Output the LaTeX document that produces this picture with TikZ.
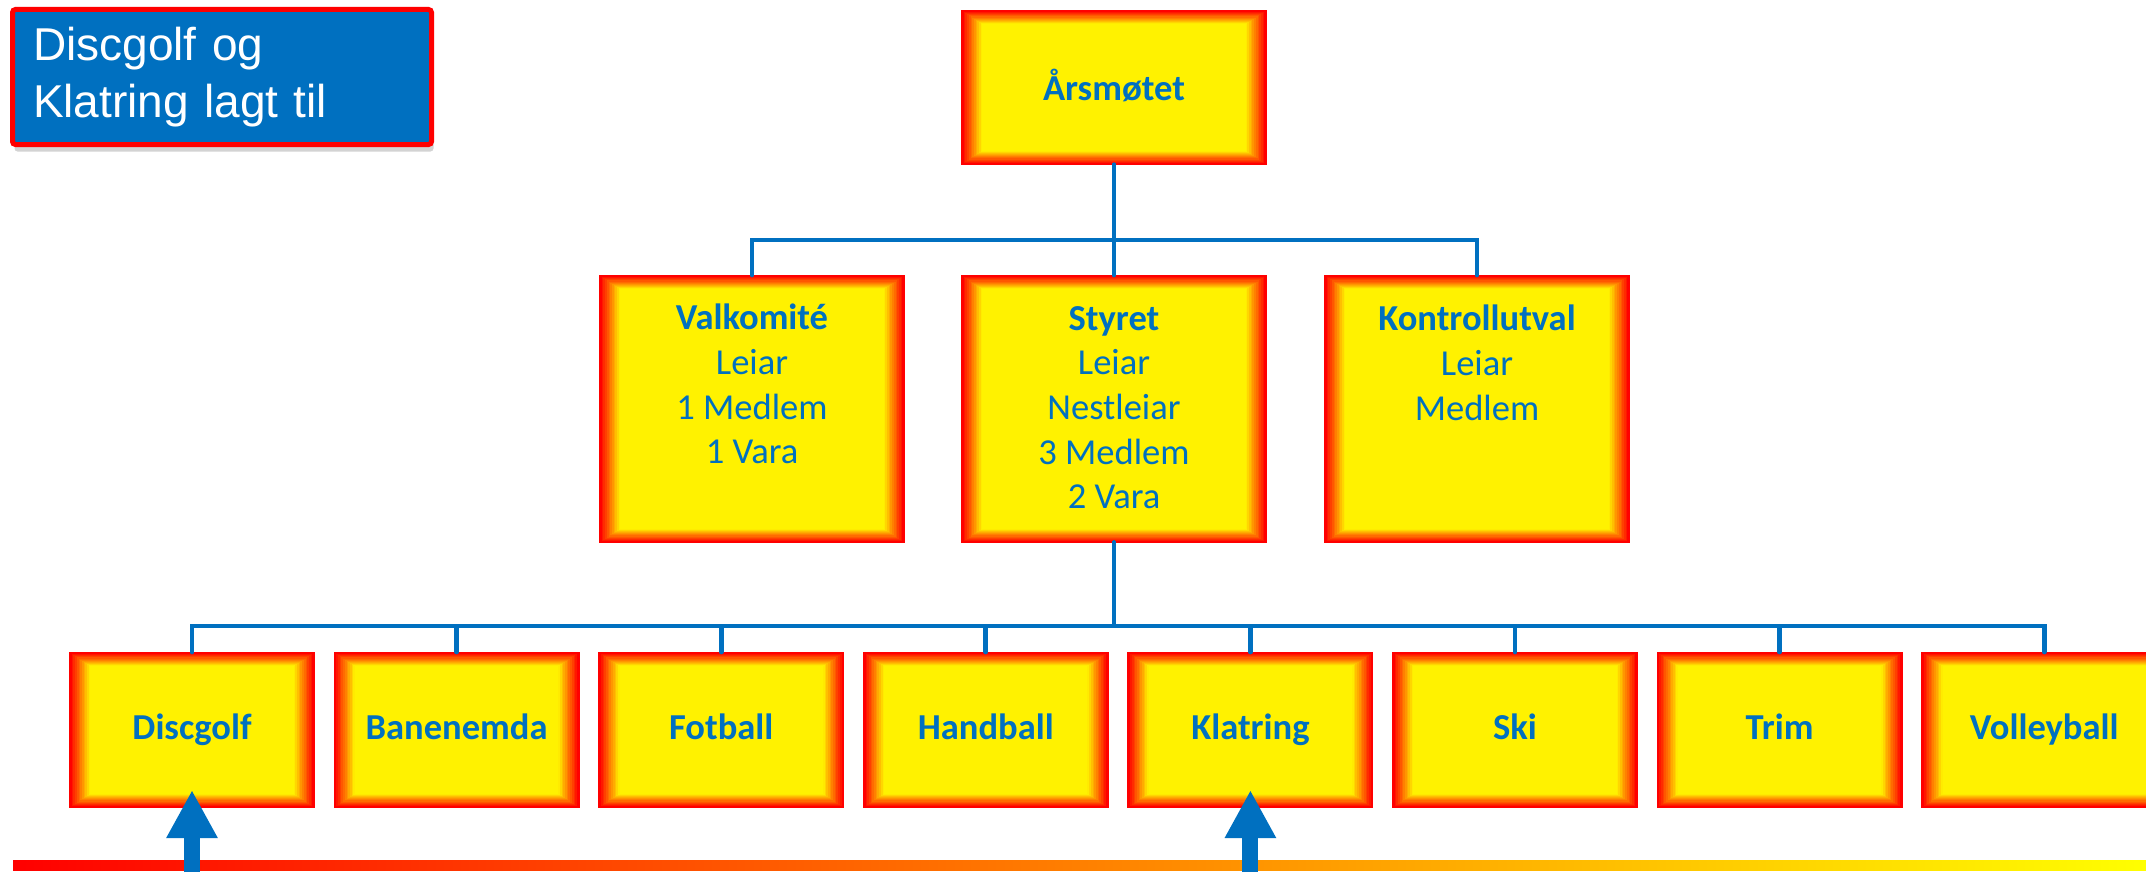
\documentclass[tikz,border=0pt]{standalone}
\usepackage{fontspec}
\setmainfont{Carlito}
\newfontfamily\notefont{Liberation Sans}
\usetikzlibrary{arrows.meta,shadows}
\definecolor{orgblue}{HTML}{0070C0}
\definecolor{barorange}{HTML}{FF9A00}

\tikzset{
	bevel/.style={draw=red, line width=0.6pt, inner sep=0pt, text=orgblue,
		font=\fontsize{10.4}{12.7}\selectfont,
		path picture={
			\foreach \i in {0,...,12}{
				\pgfmathtruncatemacro{\mix}{100-\i*100/12}
				\fill[red!\mix!yellow] ([xshift=\i*0.017cm,yshift=\i*0.011cm]path picture bounding box.south west)
					rectangle ([xshift=-\i*0.017cm,yshift=-\i*0.011cm]path picture bounding box.north east);
			}}},
	topbox/.style={bevel, minimum width=3.04cm, minimum height=1.53cm, text height=0.27cm, text depth=0pt},
	midbox/.style={bevel, minimum width=3.04cm, minimum height=2.66cm},
	clubbox/.style={bevel, minimum width=2.44cm, minimum height=1.54cm, text height=0.25cm, text depth=0.07cm},
	boxtext/.style={align=center, inner sep=0pt, text=orgblue, font=\fontsize{10.4}{12.7}\selectfont},
	notebox/.style={fill=orgblue, draw=red, line width=0.05cm, rounded corners=0.03cm,
		minimum width=4.19cm, minimum height=1.35cm, inner xsep=0.205cm, text width=3.78cm,
		align=left, text=white, font=\notefont\fontsize{13.1}{16.2}\selectfont,
		drop shadow={shadow xshift=0.02cm, shadow yshift=-0.07cm, opacity=0.35}},
	conn/.style={draw=orgblue, line width=1.4pt, line cap=round},
	uparrow/.style={draw=orgblue, line width=0.16cm, -{Triangle[length=0.48cm,width=0.48cm]}}
}

\begin{document}
\begin{tikzpicture}
	\useasboundingbox (0,0) rectangle (21.46,-8.72);

	\node[notebox, anchor=north west] (note) at (0.10,-0.07) {Discgolf og\\Klatring lagt til};

	\node[topbox] (aars) at (11.14,-0.875) {\textbf{Årsmøtet}};

	\node[midbox, label={[boxtext, anchor=north, yshift=-0.285cm]north:{\textbf{Valkomité}\\Leiar\\1 Medlem\\1 Vara}}] (valk) at (7.52,-4.09) {};
	\node[midbox, label={[boxtext, anchor=north, yshift=-0.305cm]north:{\textbf{Styret}\\Leiar\\Nestleiar\\3 Medlem\\2 Vara}}] (styret) at (11.14,-4.09) {};
	\node[midbox, label={[boxtext, anchor=north, yshift=-0.295cm]north:{\textbf{Kontrollutval}\\Leiar\\Medlem}}] (kontroll) at (14.77,-4.09) {};

	\foreach \nm/\txt [count=\k from 0] in {disc/Discgolf, bane/Banenemda, fotb/Fotball, hand/Handball,
			klat/Klatring, ski/Ski, trim/Trim, volley/Volleyball}
		\node[clubbox] (\nm) at ({1.92+\k*2.646},-7.30) {\textbf{\txt}};

	% buses
	\coordinate (bus1) at (0,-2.40);
	\coordinate (bus2) at (0,-6.26);
	\coordinate (floor) at (0,-8.72);

	\foreach \nm in {valk,styret,kontroll}
		\draw[conn] (aars.south) |- (bus1 -| \nm.north) -- (\nm.north);
	\foreach \nm in {disc,bane,fotb,hand,klat,ski,trim,volley}
		\draw[conn] (styret.south) |- (bus2 -| \nm.north) -- (\nm.north);

	\shade[left color=red, middle color=barorange, right color=yellow] (0.13,-8.60) rectangle (21.46,-8.70);

	\draw[uparrow] (floor -| disc.south) -- ([yshift=0.18cm]disc.south);
	\draw[uparrow] (floor -| klat.south) -- ([yshift=0.18cm]klat.south);
\end{tikzpicture}
\end{document}
